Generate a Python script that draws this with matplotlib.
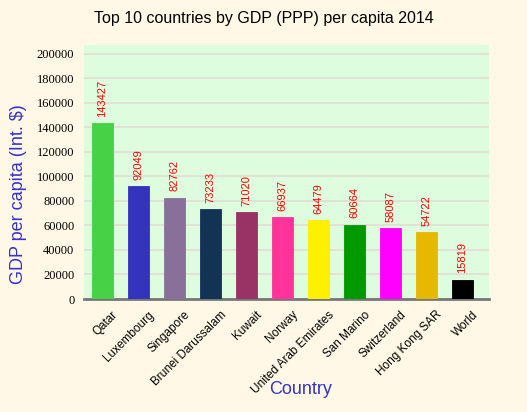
import matplotlib
matplotlib.use("Agg")
import matplotlib.pyplot as plt
import matplotlib.transforms as mtransforms

countries = ["Qatar", "Luxembourg", "Singapore", "Brunei Darussalam", "Kuwait", "Norway",
             "United Arab Emirates", "San Marino", "Switzerland", "Hong Kong SAR", "World"]
gdp = [143427, 92049, 82762, 73233, 71020, 66937, 64479, 60664, 58087, 54722, 15819]
colors = ["#46D246", "#3333BB", "#88709A", "#133355", "#993366", "#FF3399",
          "#FFF000", "#009900", "#FF00FF", "#E6B800", "#000000"]
yticks = list(range(0, 200001, 20000))

fig = plt.figure(figsize=(5.27, 4.12), dpi=100, facecolor="#FFF8E6")
ax = fig.add_axes([84/527, 113/412, 405/527, 254/412])
ax.set_facecolor("#DEFCDE")

x = list(range(len(countries)))
ax.bar(x, gdp, width=0.6, color=colors, edgecolor=colors, linewidth=0.6, zorder=3)
for xi, v in zip(x, gdp):
    ax.annotate(str(v), (xi, v), xytext=(0, 4.5), textcoords="offset points",
                rotation=90, ha="center", va="bottom", color="red", fontsize=8,
                family="Liberation Sans", zorder=4)

ax.set_xlim(-0.51, 10.74)
ax.set_ylim(0, 207300)
ax.set_yticks(yticks)
ax.set_yticklabels([str(t) for t in yticks], family="Liberation Serif", fontsize=9)
ax.yaxis.grid(True, color="#E4DDD2", linewidth=1.2, zorder=0)
ax.set_axisbelow(True)
ax.tick_params(axis="y", length=0, pad=7)
ax.tick_params(axis="x", length=0, pad=7)
ax.set_xticks(x)
ax.set_xticklabels(countries, rotation=45, ha="right", va="top", rotation_mode="anchor",
                   family="Liberation Sans", fontsize=8.5)
offset = mtransforms.ScaledTranslation(7/72, 0, fig.dpi_scale_trans)
for lab in ax.get_xticklabels():
    lab.set_transform(lab.get_transform() + offset)
for s in ["top", "right", "left"]:
    ax.spines[s].set_visible(False)
ax.spines["bottom"].set_color("#777777")
ax.spines["bottom"].set_linewidth(2)

fig.text(0.5, 1 - 19/412, "Top 10 countries by GDP (PPP) per capita 2014", ha="center", va="center",
         family="Liberation Sans", fontsize=11.5, color="black")
fig.text(19/527, 1 - 194/412, "GDP per capita (Int. $)", rotation=90, ha="center", va="center",
         family="Liberation Sans", fontsize=13, color="#3333CC")
fig.text(301/527, 1 - 389/412, "Country", ha="center", va="center",
         family="Liberation Sans", fontsize=13, color="#3333CC")

fig.savefig("out.png", dpi=100, facecolor=fig.get_facecolor())
